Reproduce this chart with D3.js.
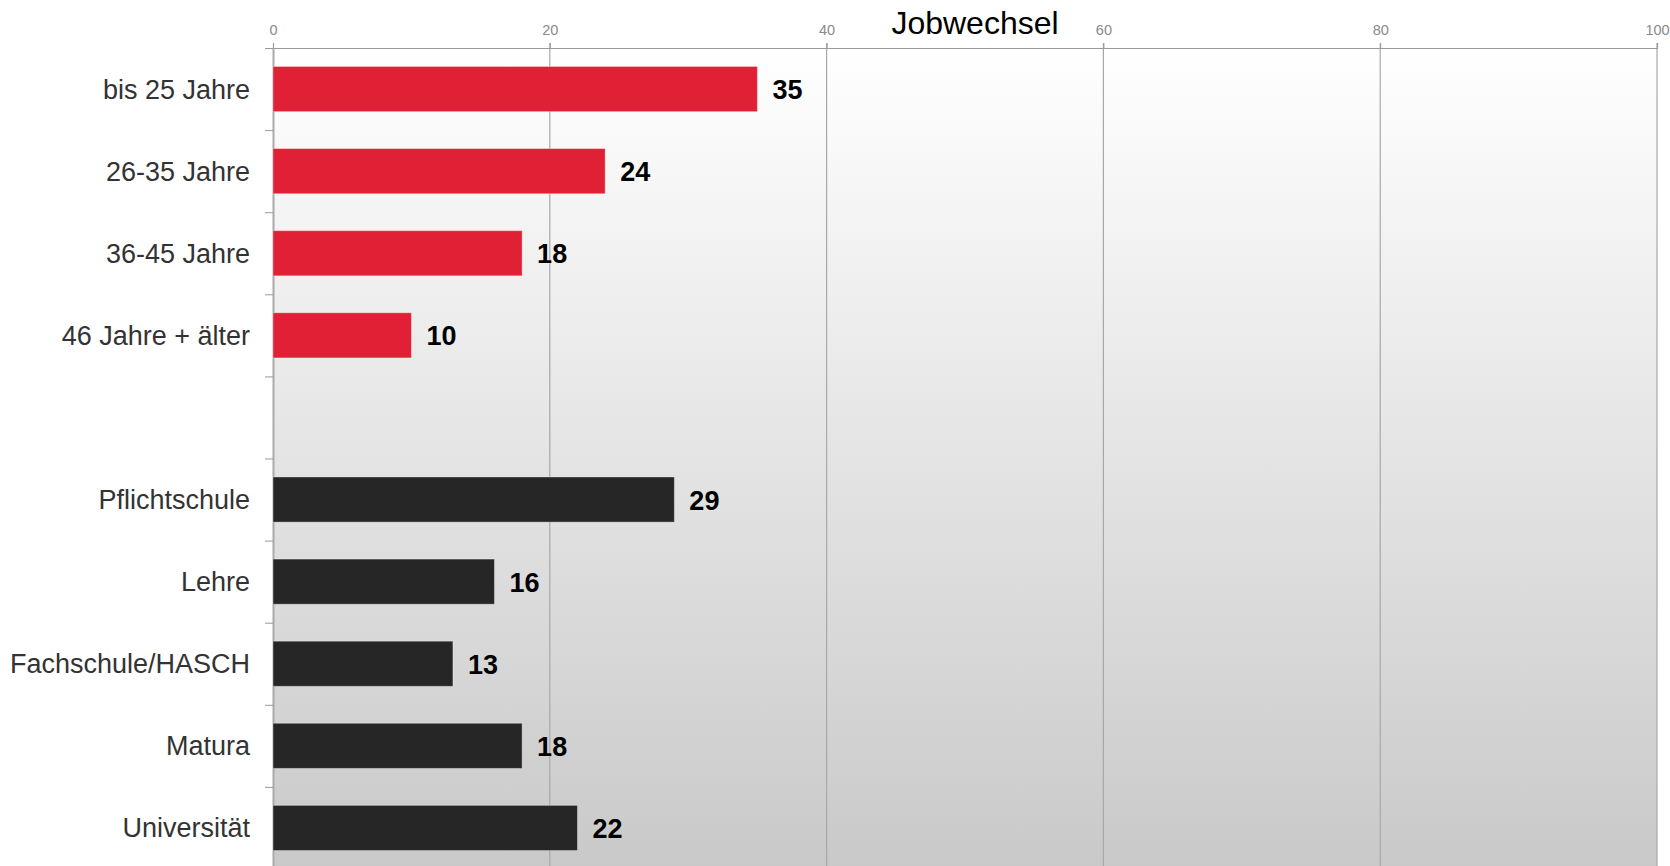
<!DOCTYPE html>
<html>
<head>
<meta charset="utf-8">
<script src="https://cdn.jsdelivr.net/npm/d3@7"></script>
<style>
  html, body { margin: 0; padding: 0; background: #fff; }
  svg { display: block; }
</style>
</head>
<body>
<svg id="chart"></svg>
<script>
// categories in drawing order, '' is the empty spacer row
const categories = ['bis 25 Jahre', '26-35 Jahre', '36-45 Jahre', '46 Jahre + älter', '',
  'Pflichtschule', 'Lehre', 'Fachschule/HASCH', 'Matura', 'Universität'];
const groups = ['alter', 'alter', 'alter', 'alter', null,
  'bildung', 'bildung', 'bildung', 'bildung', 'bildung'];
const values = [35, 24, 18, 10, null, 29, 16, 13, 18, 22];
const xTicks = [0, 20, 40, 60, 80, 100];
const title = 'Jobwechsel';

const W = 1670, H = 866;
const margin = { top: 48, left: 273, right: 13 };
const step = 82.1;
const plotH = step * categories.length;

const svg = d3.select('#chart').attr('width', W).attr('height', H);

const colors = d3.scaleOrdinal().domain(['alter', 'bildung']).range(['#e02035', '#262626']);

const x = d3.scaleLinear().domain([0, 100]).range([margin.left, W - margin.right]);
const y = d3.scaleBand().domain(d3.range(categories.length))
  .range([margin.top, margin.top + plotH]).paddingInner(0.45).paddingOuter(0.225);
const yEdge = d3.scaleLinear().domain([0, categories.length])
  .range([margin.top, margin.top + plotH]);

// background gradient
const grad = svg.append('defs').append('linearGradient')
  .attr('id', 'bg').attr('x1', 0).attr('y1', 0).attr('x2', 0).attr('y2', 1);
grad.append('stop').attr('offset', '0%').attr('stop-color', '#ffffff');
grad.append('stop').attr('offset', '100%').attr('stop-color', '#c9c9c9');

svg.append('rect')
  .attr('x', x(0)).attr('y', margin.top)
  .attr('width', x(100) - x(0)).attr('height', plotH)
  .attr('fill', 'url(#bg)');

// vertical grid
svg.append('g')
  .selectAll('line').data(xTicks.slice(1)).enter().append('line')
  .attr('x1', d => x(d)).attr('x2', d => x(d))
  .attr('y1', margin.top - 5).attr('y2', margin.top + plotH)
  .attr('stroke', '#a8a8a8').attr('stroke-width', 1.2);

// top axis
const topAxis = svg.append('g')
  .attr('transform', `translate(0,${margin.top})`)
  .call(d3.axisTop(x).tickValues(xTicks).tickSize(5).tickPadding(8));
topAxis.select('.domain').attr('stroke', '#999').attr('stroke-width', 1.2);
topAxis.selectAll('.tick line').attr('stroke', '#999');
topAxis.attr('font-family', '"Liberation Sans", Arial, sans-serif').attr('font-size', 14.5);
topAxis.selectAll('.tick text').attr('fill', '#8a8a8a');

// left axis: ticks at band edges
const leftAxis = svg.append('g')
  .attr('transform', `translate(${margin.left},0)`)
  .call(d3.axisLeft(yEdge).tickValues(d3.range(categories.length + 1)).tickFormat('').tickSize(8).tickSizeOuter(0));
leftAxis.select('.domain').attr('stroke', '#aaa').attr('stroke-width', 2);
leftAxis.selectAll('.tick line').attr('stroke', '#999');

// category labels
svg.append('g')
  .selectAll('text').data(categories).enter().append('text')
  .attr('x', margin.left - 23)
  .attr('y', (d, i) => y(i) + y.bandwidth() / 2)
  .attr('dy', '0.35em')
  .attr('text-anchor', 'end')
  .style('font-family', '"Liberation Sans", Arial, sans-serif')
  .style('font-size', '27px')
  .attr('fill', '#333')
  .text(d => d);

const rows = values.map((v, i) => ({ i, v, g: groups[i] })).filter(d => d.v !== null);

// bars
svg.append('g')
  .selectAll('rect').data(rows).enter().append('rect')
  .attr('x', x(0))
  .attr('y', d => y(d.i))
  .attr('width', d => x(d.v) - x(0))
  .attr('height', y.bandwidth())
  .attr('fill', d => colors(d.g))
  .attr('stroke', 'rgba(255,255,255,0.35)')
  .attr('stroke-width', 1);

// value labels
svg.append('g')
  .selectAll('text').data(rows).enter().append('text')
  .attr('x', d => x(d.v) + 15)
  .attr('y', d => y(d.i) + y.bandwidth() / 2)
  .attr('dy', '0.37em')
  .style('font-family', '"Liberation Sans", Arial, sans-serif')
  .style('font-size', '27px')
  .style('font-weight', 'bold')
  .attr('fill', '#000')
  .text(d => d.v);

// title
svg.append('text')
  .attr('x', 975).attr('y', 34)
  .attr('text-anchor', 'middle')
  .style('font-family', '"Liberation Sans", Arial, sans-serif')
  .style('font-size', '32px')
  .attr('fill', '#000')
  .text(title);
</script>
</body>
</html>
